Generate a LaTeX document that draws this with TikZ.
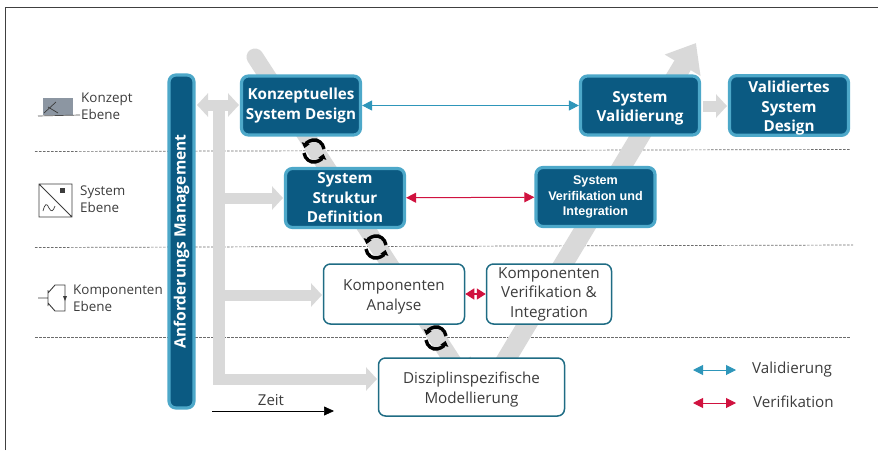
\documentclass[tikz,border=0pt]{standalone}
\usepackage{fontspec}
\setmainfont{Open Sans}
\newfontfamily\arialfont{Liberation Sans}
\usetikzlibrary{arrows.meta,positioning}
\definecolor{darkbox}{HTML}{0B5A82}
\definecolor{lightrim}{HTML}{4DA8C9}
\definecolor{boxrim}{HTML}{1F6C84}
\definecolor{greyflow}{HTML}{D9D9D9}
\definecolor{labelgrey}{HTML}{3C3C3C}
\definecolor{iconfill}{HTML}{8C96A2}
\definecolor{valblue}{HTML}{2E96BA}
\definecolor{verred}{HTML}{D0123F}
\newcommand{\lowerfirst}{\rule{0pt}{17pt}}
\tikzset{
  darknode/.style={draw=lightrim,fill=darkbox,line width=3.2pt,rounded corners=7pt,text=white,
    font=\bfseries\fontsize{15.2}{19.5}\selectfont,align=center,minimum height=59pt,minimum width=119pt,inner sep=0pt},
  whitenode/.style={draw=boxrim,fill=white,line width=1.5pt,rounded corners=7pt,text=labelgrey,
    font=\fontsize{15.2}{19.5}\selectfont,align=center,inner sep=0pt},
  levellabel/.style={text=labelgrey,font=\fontsize{13.4}{17}\selectfont,align=left,anchor=west,inner sep=0pt},
  levelline/.style={dash pattern=on 2.5pt off 1.5pt,gray!85!black,line width=.7pt},
  greyflowline/.style={greyflow,line width=17pt},
  greybranch/.style={greyflow,line width=11pt,-{Triangle[length=11pt,width=23pt]}},
  valline/.style={valblue,line width=1pt,{Triangle[length=10pt,width=10pt]}-{Triangle[length=10pt,width=10pt]}},
  verline/.style={verred,line width=1pt,{Triangle[length=10pt,width=10pt]}-{Triangle[length=10pt,width=10pt]}},
  syncline/.style={black,line width=3.4pt,-{Triangle[length=5pt,width=8pt]}},
  iconline/.style={labelgrey,line width=.7pt}
}
\begin{document}
\begin{tikzpicture}[x=1pt,y=-1pt]
  \useasboundingbox (0,0) rectangle (878,450);
  %frame
  \draw[black!75,line width=1pt] (5,450) -- (5,7.5) -- (878,7.5);
  %level lines
  \draw[levelline] (35,151.5) -- (850,149.5);
  \draw[levelline] (35,247.5) -- (853,245);
  \draw[levelline] (35,337.5) -- (850,337.5);
  %grey flow
  \draw[greyflowline,line cap=round,-{Triangle[length=26pt,width=34pt]}] (255,57) -- (470,388);
  \draw[greyflowline,line width=19pt,-{Triangle[length=26pt,width=40pt]}] (495,378) -- (696,43);
  \fill[greyflow] (213,103) rectangle (225,385);
  \draw[greybranch,{Triangle[length=11pt,width=23pt]}-{Triangle[length=11pt,width=23pt]}] (197,105) -- (239,105);
  \draw[greybranch] (219,198) -- (283,198);
  \draw[greybranch] (219,295) -- (322,295);
  \draw[greybranch] (219,379) -- (377,379);
  \draw[greybranch] (703,106) -- (727,106);
  %requirements bar
  \node[darknode,rotate=90,minimum width=333pt,minimum height=25pt,
    font=\bfseries\fontsize{15.6}{16}\selectfont] (reqbar) at (181.5,241.5) {Anforderungs Management};
  %dark boxes
  \node[darknode] (konzept) at (301,105.5) {Konzeptuelles\\System Design};
  \node[darknode] (struktur) at (345,198) {System\\Struktur\\Definition};
  \node[darknode] (validierung) at (640,105.5) {\lowerfirst System\\Validierung};
  \node[darknode] (validiert) at (789,105.5) {\lowerfirst Validiertes\\System\\Design};
  \node[darknode,font=\arialfont\bfseries\fontsize{12.6}{15.5}\selectfont] (sysverif) at (595.5,197) {System\\Verifikation und\\Integration};
  %white boxes
  \node[whitenode,minimum width=141pt,minimum height=60pt] (analyse) at (394,294) {\lowerfirst Komponenten\\Analyse};
  \node[whitenode,minimum width=125pt,minimum height=60pt] (kompverif) at (549,294) {Komponenten\\Verifikation \&\\Integration};
  \node[whitenode,minimum width=186pt,minimum height=58pt] (disziplin) at (471.5,387) {\lowerfirst Disziplinspezifische\\Modellierung};
  %links
  \draw[valline] (konzept) -- (validierung);
  \draw[verline] (struktur) -- (sysverif);
  \draw[verline,line width=1.5pt,{Triangle[length=9pt,width=11pt]}-{Triangle[length=9pt,width=11pt]}] (analyse) -- (kompverif);
  %sync marks
  \foreach \sx/\sy in {314/151,376/247,436/338}{
    \draw[syncline] (\sx+10,\sy-2) arc[start angle=10,end angle=165,x radius=10,y radius=-11];
    \draw[syncline] (\sx-10,\sy+2) arc[start angle=190,end angle=345,x radius=10,y radius=-11];
  }
  %level labels
  \node[levellabel] (lblkonzept) at (81,106) {Konzept\\Ebene};
  \node[levellabel] (lblsystem) at (80,199) {System\\Ebene};
  \node[levellabel] (lblkomp) at (73,298) {Komponenten\\Ebene};
  %concept icon
  \fill[iconfill] (43,98) rectangle (73,115);
  \draw[iconline,gray!60!black] (38,116) -- (80,115);
  \draw[iconline] (44,113) -- (56,102) (48,107) -- (58,113);
  %system icon
  \draw[iconline,line width=.9pt] (39,184) rectangle (72,217) (39,184) -- (72,217);
  \fill[labelgrey] (60,188) rectangle (65,193);
  \draw[iconline] (43,211) .. controls (45,203) and (47,203) .. (49,208) .. controls (51,212) and (53,212) .. (55,206);
  %component icon
  \draw[iconline,line width=.9pt] (38,298) -- (48,298) (48,290) -- (48,306) (48,293) -- (55,285) -- (65,285) -- (65,311) -- (55,311) -- (48,303);
  \fill[labelgrey] (63,296) -- (67,296) -- (65,301) -- cycle;
  %time
  \coordinate (zeitstart) at (212,411);
  \coordinate (zeitend) at (334,411);
  \draw[black,line width=.7pt,-{Triangle[length=10pt,width=9pt]}] (zeitstart) -- (zeitend);
  \node[text=labelgrey,font=\fontsize{15}{15}\selectfont,inner sep=0pt] (zeit) at (271,400) {Zeit};
  %legend
  \coordinate (valstart) at (693,370);
  \coordinate (valend) at (736,370);
  \coordinate (verstart) at (693,403);
  \coordinate (verend) at (736,403);
  \draw[valline] (valstart) -- (valend);
  \draw[verline] (verstart) -- (verend);
  \node[levellabel,font=\fontsize{15.2}{16}\selectfont] (lblval) at (752,370) {Validierung};
  \node[levellabel,font=\fontsize{15.2}{16}\selectfont] (lblver) at (753,402) {Verifikation};
\end{tikzpicture}
\end{document}
